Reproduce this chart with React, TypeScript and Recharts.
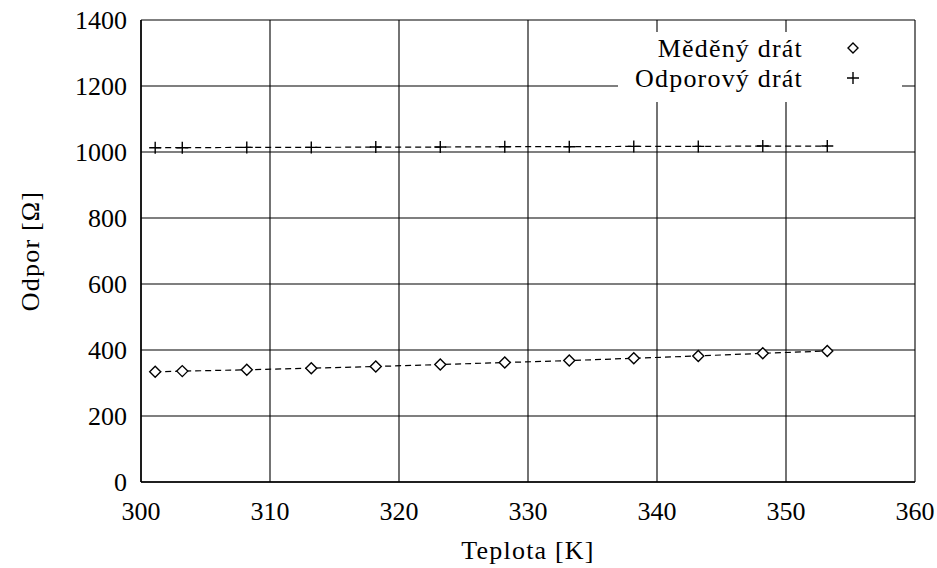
import React from "react";
import { ComposedChart, Line, XAxis, YAxis, CartesianGrid, Label } from "recharts";

// Teplota [K] vs. odpor [Ω] for the two wires
const temps = [301.1, 303.2, 308.2, 313.2, 318.2, 323.2, 328.2, 333.2, 338.2, 343.2, 348.2, 353.2];
const copper = [334, 336, 340, 345, 350, 356, 362, 368, 375, 382, 390, 397];
const resistive = [1013, 1013, 1014, 1014, 1015, 1015, 1016, 1016, 1017, 1017, 1018, 1018];
const seriesNames = ["Měděný drát", "Odporový drát"];
const xTicks = [300, 310, 320, 330, 340, 350, 360];
const yTicks = [0, 200, 400, 600, 800, 1000, 1200, 1400];

const data = temps.map((t, i) => ({ t, copper: copper[i], resistive: resistive[i] }));

const FONT = "Liberation Serif, DejaVu Serif, serif";
const W = 937;
const H = 568;
const wide = { fontFamily: FONT, fontSize: 26, letterSpacing: 1.2 };

function Diamond({ cx, cy, r = 5.5 }: { cx?: number; cy?: number; r?: number }) {
  if (cx == null || cy == null) return null;
  return (
    <path
      d={`M${cx} ${cy - r}L${cx + r} ${cy}L${cx} ${cy + r}L${cx - r} ${cy}Z`}
      fill="#fff"
      stroke="#000"
      strokeWidth={1.4}
    />
  );
}

function Plus({ cx, cy, r = 6 }: { cx?: number; cy?: number; r?: number }) {
  if (cx == null || cy == null) return null;
  return (
    <path d={`M${cx - r} ${cy}H${cx + r}M${cx} ${cy - r}V${cy + r}`} stroke="#000" strokeWidth={1.4} fill="none" />
  );
}

function KeyBox() {
  return (
    <svg width={W} height={H} style={{ position: "absolute", left: 0, top: 0, pointerEvents: "none" }}>
      <rect x={618} y={32} width={284} height={70} fill="#fff" />
      <text x={803} y={57} textAnchor="end" style={wide}>
        {seriesNames[0]}
      </text>
      <Diamond cx={853} cy={48} r={5} />
      <text x={803} y={87} textAnchor="end" style={wide}>
        {seriesNames[1]}
      </text>
      <Plus cx={853} cy={78} />
    </svg>
  );
}

export default function App() {
  const tickStyle = { fontFamily: FONT, fontSize: 26, fill: "#000" };
  return (
    <div style={{ position: "relative", width: W, height: H, background: "#fff", fontFamily: FONT }}>
      <style>{`body{margin:0}`}</style>
      <ComposedChart width={W} height={H} data={data} margin={{ top: 20, right: 22, bottom: 0, left: 0 }}>
        <CartesianGrid stroke="#000" strokeWidth={1.1} />
        <XAxis
          type="number"
          dataKey="t"
          domain={[300, 360]}
          ticks={xTicks}
          allowDataOverflow
          height={86}
          tickLine={false}
          tickSize={0}
          tickMargin={20}
          axisLine={{ stroke: "#000", strokeWidth: 1.5 }}
          tick={tickStyle}
        >
          <Label
            content={({ viewBox }: any) => (
              <text
                x={viewBox.x + viewBox.width / 2}
                y={559}
                textAnchor="middle"
                style={wide}
                fill="#000"
              >
                Teplota [K]
              </text>
            )}
          />
        </XAxis>
        <YAxis
          type="number"
          domain={[0, 1400]}
          ticks={yTicks}
          width={141}
          tickLine={false}
          tickSize={0}
          tickMargin={14}
          axisLine={{ stroke: "#000", strokeWidth: 1.5 }}
          tick={tickStyle}
        >
          <Label
            content={({ viewBox }: any) => {
              const cy = viewBox.y + viewBox.height / 2;
              return (
                <text
                  x={39}
                  y={cy}
                  transform={`rotate(-90 39 ${cy})`}
                  textAnchor="middle"
                  style={wide}
                  fill="#000"
                >
                  Odpor [Ω]
                </text>
              );
            }}
          />
        </YAxis>
        <Line
          type="linear"
          dataKey="copper"
          name={seriesNames[0]}
          stroke="#000"
          strokeWidth={1.2}
          strokeDasharray="6 4"
          dot={(p: any) => <Diamond key={`c${p.index}`} cx={p.cx} cy={p.cy} />}
          activeDot={false}
          isAnimationActive={false}
        />
        <Line
          type="linear"
          dataKey="resistive"
          name={seriesNames[1]}
          stroke="#000"
          strokeWidth={1.2}
          strokeDasharray="6 4"
          dot={(p: any) => <Plus key={`r${p.index}`} cx={p.cx} cy={p.cy} />}
          activeDot={false}
          isAnimationActive={false}
        />
      </ComposedChart>
      <KeyBox />
    </div>
  );
}
